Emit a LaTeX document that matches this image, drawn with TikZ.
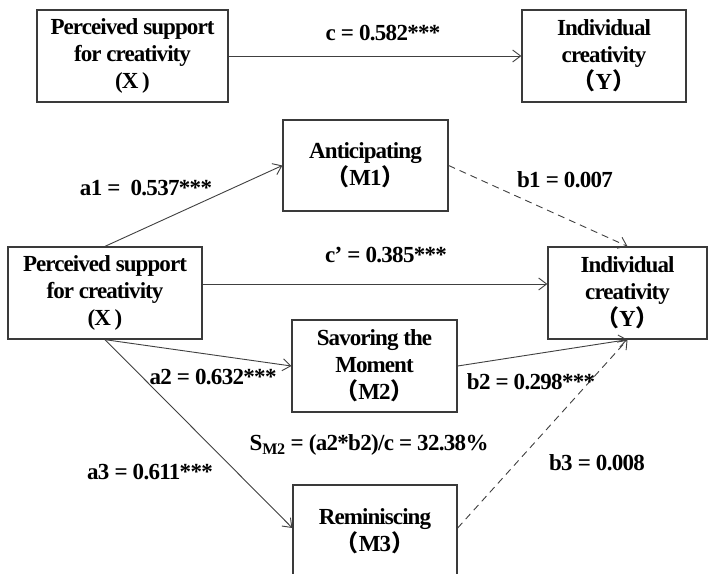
\documentclass[tikz,border=0pt]{standalone}
\usepackage{fontspec}
\setmainfont{Liberation Serif}
\newfontfamily\cjkf{Noto Sans CJK SC}
\usetikzlibrary{arrows.meta}
\newcommand{\lpar}{{\cjkf （}}
\newcommand{\rpar}{{\cjkf ）}}
\definecolor{boxc}{HTML}{3A3A3A}
\definecolor{linec}{HTML}{404040}
\begin{document}
\begin{tikzpicture}[x=1pt,y=-1pt,
  mybox/.style={draw=boxc, line width=1.3pt, align=center, inner sep=0pt,
    font=\bfseries\fontsize{23}{27}\selectfont\addfontfeature{LetterSpace=-4}},
  lbl/.style={inner sep=0pt, font=\bfseries\fontsize{23}{26}\selectfont\addfontfeature{LetterSpace=-3}},
  arr/.style={draw=linec, line width=0.9pt, -{Straight Barb[length=8pt,width=12pt]}},
  darr/.style={arr, dash pattern=on 7pt off 5pt}]
\fill[white] (0,0) rectangle (708,573);
\useasboundingbox (0,0) rectangle (708,573);
\begin{scope}
\clip (0,0) rectangle (708,573);
% boxes
\node[mybox, minimum width=191pt, minimum height=92pt] (X1) at (132.5,56) {Perceived support\\for creativity\\(X\,)};
\node[mybox, minimum width=164pt, minimum height=92pt] (Y1) at (604,56) {Individual\\creativity\\\lpar Y\rpar};
\node[mybox, minimum width=165pt, minimum height=91pt] (M1) at (365.5,165.5) {Anticipating\\\lpar M1\rpar};
\node[mybox, minimum width=194pt, minimum height=92pt] (X2) at (105,293) {Perceived support\\for creativity\\(X\,)};
\node[mybox, minimum width=159pt, minimum height=92pt] (Y2) at (627.5,293) {Individual\\creativity\\\lpar Y\rpar};
\node[mybox, minimum width=165pt, minimum height=92pt] (M2) at (374.5,366) {Savoring the\\Moment\\\lpar M2\rpar};
\node[mybox, minimum width=164pt, minimum height=92pt] (M3) at (375,531) {Reminiscing\\\lpar M3\rpar};
% connectors
\draw[arr] (X1.east) -- (Y1.west);
\draw[arr] (X2.north) -- (M1.west);
\draw[darr] (M1.east) -- (Y2.north);
\draw[arr] ([yshift=9pt]X2.east) -- ([yshift=9pt]Y2.west);
\draw[arr] (X2.south) -- (M2.west);
\draw[arr] (M2.east) -- (Y2.south);
\draw[arr] (X2.south) -- ([yshift=3pt]M3.west);
\draw[darr] ([yshift=3pt]M3.east) -- (Y2.south);
% labels
\node[lbl] (lc) at (383,33) {c = 0.582***};
\node[lbl] (la1) at (146,188) {a1 = \ 0.537***};
\node[lbl] (lb1) at (565,180) {b1 = 0.007};
\node[lbl] (lcp) at (386,255) {c’ = 0.385***};
\node[lbl] (la2) at (213,377) {a2 = 0.632***};
\node[lbl] (lb2) at (531,382) {b2 = 0.298***};
\node[lbl] (ls) at (369,445) {S\textsubscript{M2} = (a2*b2)/c = 32.38\%};
\node[lbl] (la3) at (150,472) {a3 = 0.611***};
\node[lbl] (lb3) at (597,463) {b3 = 0.008};
\end{scope}
\end{tikzpicture}
\end{document}
